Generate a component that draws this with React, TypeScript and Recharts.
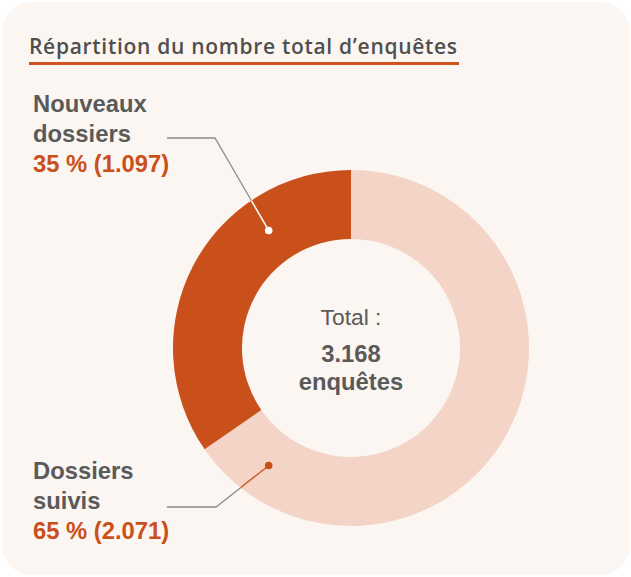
import { PieChart, Pie, Cell } from 'recharts'

const categories = ['Dossiers suivis', 'Nouveaux dossiers']
const nameLines = [
  ['Dossiers', 'suivis'],
  ['Nouveaux', 'dossiers'],
]
const values = [2071, 1097]
const colors = ['#f3d4c7', '#c9501b']
// colour of the leader line where it crosses each slice
const crossColors = ['#d0612e', '#ffffff']
const dotColors = ['#c9501b', '#ffffff']

const titleText = 'Répartition du nombre total d’enquêtes'
const totalLabel = 'Total :'
const totalUnit = 'enquêtes'

const GREY = '#5a5a5a'
const ORANGE = '#c9501b'

// annotation layout relative to the pie centre
const labelLayout = [
  { dotAngle: -125, elbowDx: -135, elbowDy: 159, startDx: -184, firstDy: 131 },
  { dotAngle: 125, elbowDx: -136, elbowDy: -210, startDx: -184, firstDy: -236 },
]

const fmt = (n: number) => String(n).replace(/\B(?=(\d{3})+(?!\d))/g, '.')

const total = values.reduce((a, b) => a + b, 0)
const data = categories.map((name, i) => ({ name, value: values[i] }))

const renderLabel = (props: any) => {
  const { cx, cy, innerRadius, outerRadius, index, percent, value } = props
  const l = labelLayout[index]
  const rMid = (innerRadius + outerRadius) / 2
  const a = (l.dotAngle * Math.PI) / 180
  const dx = cx + rMid * Math.cos(a)
  const dy = cy - rMid * Math.sin(a)
  const ex = cx + l.elbowDx
  const ey = cy + l.elbowDy
  // where the diagonal meets the outer edge
  const vx = dx - ex
  const vy = dy - ey
  const fx = ex - cx
  const fy = ey - cy
  const A = vx * vx + vy * vy
  const B = 2 * (fx * vx + fy * vy)
  const C = fx * fx + fy * fy - outerRadius * outerRadius
  const t = (-B - Math.sqrt(B * B - 4 * A * C)) / (2 * A)
  const ix = ex + t * vx
  const iy = ey + t * vy
  const tx = cx - 318
  const ty = cy + l.firstDy
  return (
    <g key={`lab-${index}`}>
      <polyline
        points={`${cx + l.startDx},${ey} ${ex},${ey} ${ix},${iy}`}
        fill="none"
        stroke="#8c8c8c"
        strokeWidth={1.3}
      />
      <line x1={ix} y1={iy} x2={dx} y2={dy} stroke={crossColors[index]} strokeWidth={1.5} />
      <circle cx={dx} cy={dy} r={3.8} fill={dotColors[index]} />
      <text
        x={tx}
        y={ty}
        fontFamily="'Liberation Sans', Arial, sans-serif"
        fontWeight="bold"
        fontSize={23.8}
      >
        <tspan x={tx} y={ty} fill={GREY}>{nameLines[index][0]}</tspan>
        <tspan x={tx} y={ty + 29.5} fill={GREY}>{nameLines[index][1]}</tspan>
        <tspan x={tx} y={ty + 59.5} fill={ORANGE}>
          {`${Math.round(percent * 100)} % (${fmt(value)})`}
        </tspan>
      </text>
      {index === 0 && (
        <text
          textAnchor="middle"
          fontFamily="'Liberation Sans', Arial, sans-serif"
          fill={GREY}
        >
          <tspan x={cx} y={cy - 23} fontSize={22.8}>{totalLabel}</tspan>
          <tspan x={cx} y={cy + 14} fontSize={23.8} fontWeight="bold">{fmt(total)}</tspan>
          <tspan x={cx} y={cy + 42} fontSize={23.8} fontWeight="bold">{totalUnit}</tspan>
        </text>
      )}
    </g>
  )
}

export default function App() {
  return (
    <div
      style={{
        position: 'absolute',
        left: 0,
        top: 0,
        width: 631,
        height: 577,
        background: '#ffffff',
      }}
    >
      <div
        style={{
          position: 'absolute',
          left: 2,
          top: 2,
          width: 628,
          height: 573,
          borderRadius: 30,
          background: '#fbf6f1',
        }}
      />
      <div
        style={{
          position: 'absolute',
          left: 29,
          top: 32,
          width: 430,
          fontFamily: "'Open Sans', sans-serif",
          fontWeight: 600,
          fontSize: 21,
          letterSpacing: 0.7,
          color: '#4f4f4f',
          whiteSpace: 'nowrap',
          lineHeight: '28px',
          paddingBottom: 2,
          borderBottom: '3px solid #d0521d',
        }}
      >
        {titleText}
      </div>
      <div style={{ position: 'absolute', left: 0, top: 0 }}>
        <PieChart width={631} height={577} margin={{ top: 0, right: 0, bottom: 0, left: 0 }}>
          <Pie
            data={data}
            dataKey="value"
            nameKey="name"
            cx={351}
            cy={348}
            innerRadius={109}
            outerRadius={178}
            startAngle={90}
            endAngle={-270}
            stroke="none"
            label={renderLabel}
            labelLine={false}
            isAnimationActive={false}
          >
            {data.map((d, i) => (
              <Cell key={d.name} fill={colors[i]} />
            ))}
          </Pie>
        </PieChart>
      </div>
    </div>
  )
}
